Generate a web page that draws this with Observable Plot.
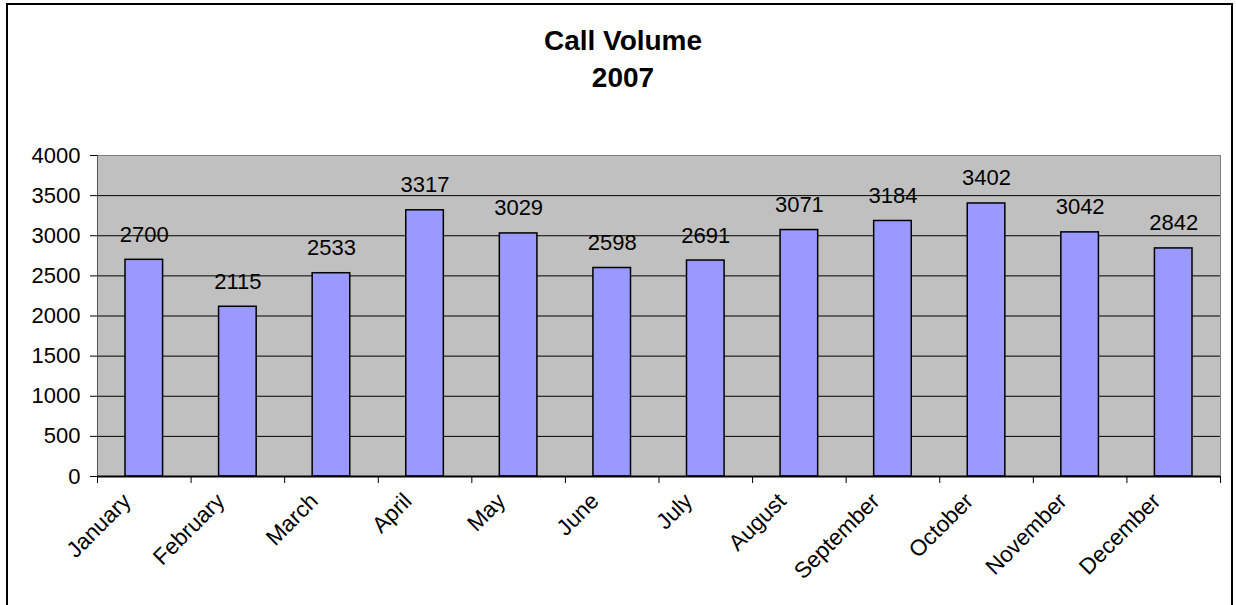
<!DOCTYPE html>
<html>
<head>
<meta charset="utf-8">
<script src="https://cdn.jsdelivr.net/npm/d3@7"></script>
<script src="https://cdn.jsdelivr.net/npm/@observablehq/plot@0.6"></script>
<style>
  html, body { margin: 0; padding: 0; background: #fff; overflow: hidden; }
  #wrap { position: relative; width: 1236px; height: 605px; font-family: "Liberation Sans", Arial, sans-serif; }
  #border { position: absolute; left: 6px; top: 3px; width: 1223px; height: 700px; border: 2px solid #000; box-sizing: content-box; }
  .title { position: absolute; left: 0; width: 1246px; text-align: center; font-weight: bold; font-size: 28px; color: #000; line-height: 1; }
  #chart { position: absolute; left: 0; top: 0; }
</style>
</head>
<body>
<div id="wrap">
  <div id="border"></div>
  <div id="chart"></div>
  <div class="title" id="t1" style="top:27px"></div>
  <div class="title" id="t2" style="top:64px"></div>
</div>
<script>
const titleLine1 = "Call Volume";
const titleLine2 = "2007";
const months = ["January","February","March","April","May","June","July","August","September","October","November","December"];
const calls = [2700, 2115, 2533, 3317, 3029, 2598, 2691, 3071, 3184, 3402, 3042, 2842];
const yTicks = [0, 500, 1000, 1500, 2000, 2500, 3000, 3500, 4000];

document.getElementById("t1").textContent = titleLine1;
document.getElementById("t2").textContent = titleLine2;

const data = months.map((m, i) => ({month: m, idx: i, value: calls[i]}));
const font = "Liberation Sans, Arial, sans-serif";

const chart = Plot.plot({
  width: 1236,
  height: 605,
  marginLeft: 97,
  marginRight: 16,
  marginTop: 155,
  marginBottom: 129,
  style: {fontFamily: font, background: "transparent", color: "#000", overflow: "visible"},
  x: {domain: [0, months.length], axis: null},
  y: {domain: [0, 4000], axis: null},
  marks: [
    Plot.frame({fill: "#c0c0c0", stroke: "#808080"}),
    Plot.ruleY(yTicks.slice(1, -1), {stroke: "#000", strokeWidth: 1}),
    Plot.rectY(data, {x1: d => d.idx, x2: d => d.idx + 1, y: "value", insetLeft: 28, insetRight: 28, fill: "#9999ff", stroke: "#000", strokeWidth: 1.5}),
    Plot.ruleX([0], {stroke: "#555", strokeWidth: 1}),
    Plot.ruleY([0], {stroke: "#000", strokeWidth: 2}),
    Plot.axisY({ticks: yTicks, tickFormat: d => String(d), tickSize: 7, tickPadding: 10, fontSize: 22, label: null, stroke: "#000"}),
    Plot.axisX({ticks: d3.range(months.length + 1), tickFormat: () => "", tickSize: 7, label: null, stroke: "#000"}),
    Plot.text(data, {x: d => d.idx + 0.5, y: "value", text: d => String(d.value), lineAnchor: "bottom", dy: -18, fontSize: 22, fill: "#000"}),
    Plot.text(data, {x: d => d.idx + 0.5, y: () => 0, text: "month", rotate: -45, textAnchor: "end", lineAnchor: "bottom", dx: -12, dy: 26, fontSize: 22.5, fill: "#000"})
  ]
});
document.getElementById("chart").appendChild(chart);
</script>
</body>
</html>
